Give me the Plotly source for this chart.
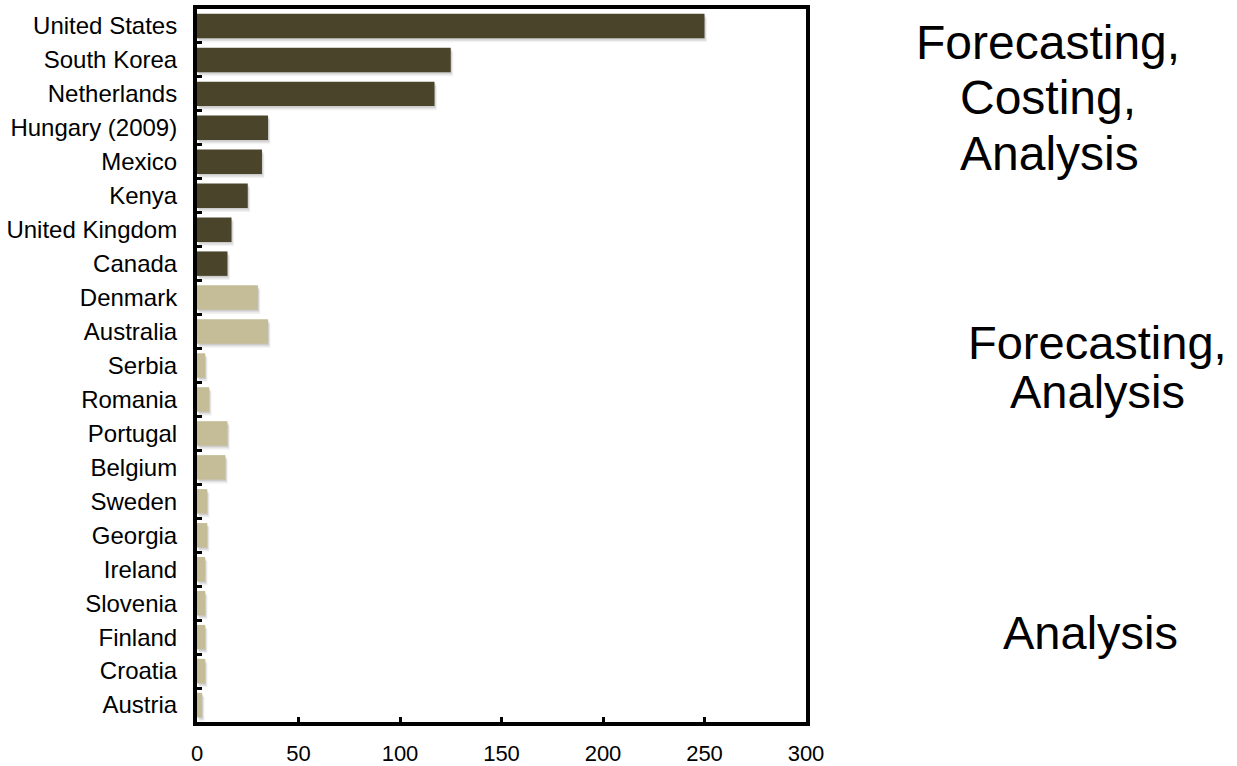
import plotly.graph_objects as go

# Countries, top to bottom
countries = [
    "United States", "South Korea", "Netherlands", "Hungary (2009)", "Mexico",
    "Kenya", "United Kingdom", "Canada", "Denmark", "Australia", "Serbia",
    "Romania", "Portugal", "Belgium", "Sweden", "Georgia", "Ireland",
    "Slovenia", "Finland", "Croatia", "Austria",
]
values = [250, 125, 117, 35, 32, 25, 17, 15, 30, 35, 4, 6, 15, 14, 5, 5, 4, 4, 4, 4, 2.5]
# 1 = forecasting + costing + analysis group, 0 = the others
full_group = [1, 1, 1, 1, 1, 1, 1, 1, 0, 0, 0, 0, 0, 0, 0, 0, 0, 0, 0, 0, 0]

x_ticks = [0, 50, 100, 150, 200, 250, 300]

DARK = "#4A452A"
LIGHT = "#C4BD97"
FONT = "Arial, Liberation Sans, sans-serif"

BAR_W = 0.72
colors = [DARK if g else LIGHT for g in full_group]

L, R, T, B = 197, 431, 9, 44
W, H = 1237, 766

fig = go.Figure()

# soft drop shadow: a few faint layers nudged down and slightly right
for dx, dy, alpha in [(0.4, 0.04, 0.09), (0.8, 0.08, 0.07), (1.2, 0.12, 0.05)]:
    fig.add_trace(go.Bar(
        y=countries, x=values, base=dx, orientation="h",
        width=BAR_W, offset=-BAR_W / 2 + dy,
        marker=dict(color=f"rgba(0,0,0,{alpha})", line=dict(width=0)),
        hoverinfo="skip", showlegend=False,
    ))

fig.add_trace(go.Bar(
    y=countries, x=values, orientation="h", width=BAR_W,
    marker=dict(color=colors, line=dict(width=0)),
    showlegend=False,
))

fig.update_layout(
    width=W, height=H,
    margin=dict(l=L, r=R, t=T, b=B),
    paper_bgcolor="white", plot_bgcolor="white",
    barmode="overlay",
    font=dict(family=FONT, color="black"),
    xaxis=dict(
        range=[0, 300], tickvals=x_ticks, ticks="inside", ticklen=5,
        tickwidth=3, tickcolor="black", showgrid=False, zeroline=False,
        showline=True, linewidth=4, linecolor="black", mirror=True,
        tickfont=dict(size=22, family=FONT), ticklabelstandoff=9,
        automargin=False,
    ),
    yaxis=dict(
        type="category", autorange="reversed", range=[20.5, -0.5],
        ticks="inside", tickson="boundaries", ticklen=5, tickwidth=3,
        tickcolor="black", showgrid=False, zeroline=False,
        showline=True, linewidth=4, linecolor="black", mirror=True,
        tickfont=dict(size=24, family=FONT), ticklabelstandoff=11,
        automargin=False,
    ),
)

# function labels on the right, one annotation per line
notes = [
    ("Forecasting,", 1048, 42, 48),
    ("Costing,", 1048, 97, 48),
    ("Analysis", 1049, 153, 48),
    ("Forecasting,", 1097, 342, 47),
    ("Analysis", 1097, 391, 47),
    ("Analysis", 1090, 632, 47),
]
for text, px, py, size in notes:
    fig.add_annotation(
        text=text, xref="paper", yref="paper",
        x=(px - L) / (W - L - R), y=1 - (py - T) / (H - T - B),
        xanchor="center", yanchor="middle", showarrow=False, align="center",
        font=dict(size=size, family=FONT, color="black"),
    )

fig.write_html("out.html")
